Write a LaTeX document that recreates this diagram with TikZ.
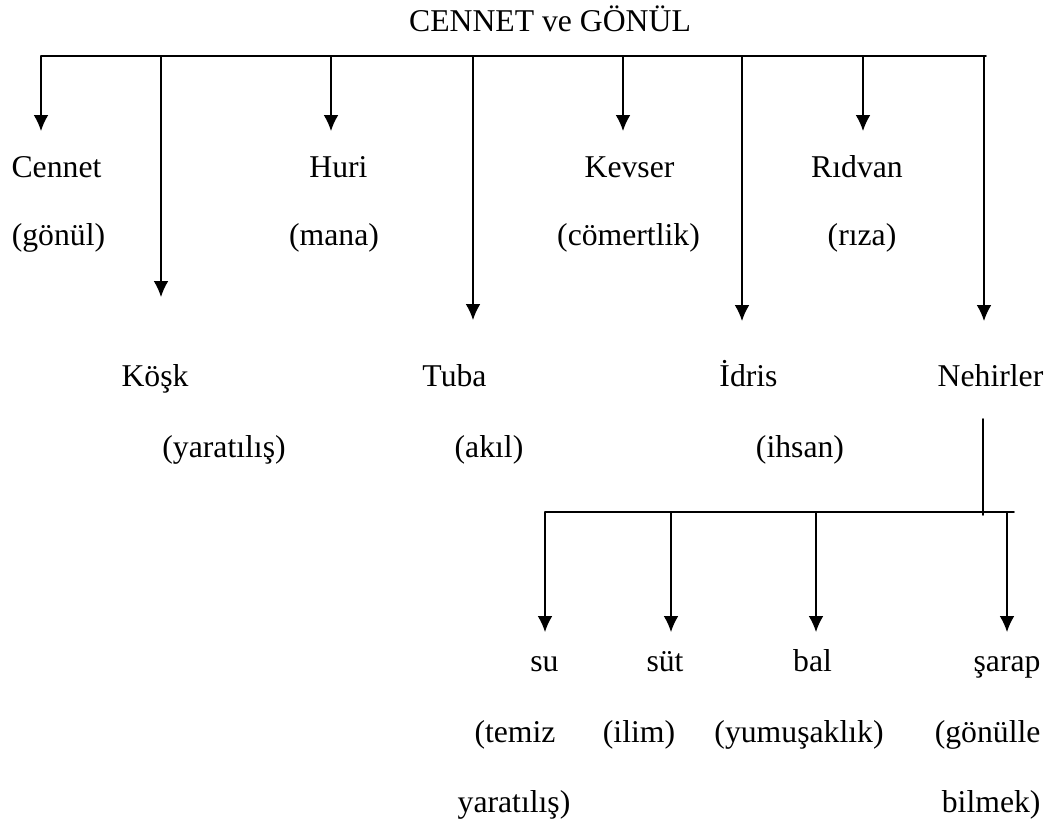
\documentclass[tikz,border=0pt]{standalone}
\usepackage{fontspec}
\setmainfont{Liberation Serif}
\usetikzlibrary{arrows.meta}
\begin{document}
\begin{tikzpicture}[x=0.3785pt,y=-0.3785pt,line cap=round,
  lbl/.style={anchor=base,inner sep=0pt,font=\fontsize{12}{14}\selectfont},
  rlbl/.style={lbl,anchor=base east},
  bus/.style={line width=0.6pt},
  drop/.style={line width=0.5pt,-{Latex[length=6pt,width=5.5pt]}}]
  \useasboundingbox (0,0) rectangle (1061,826);
  \node[lbl] (title) at (550,31) {CENNET ve GÖNÜL};
  \node[lbl] (cennet) at (56.5,177) {Cennet};
  \node[lbl] (gonul) at (58.5,245) {(gönül)};
  \node[lbl] (huri) at (338.5,177) {Huri};
  \node[lbl] (mana) at (334,245) {(mana)};
  \node[lbl] (kevser) at (629.5,177) {Kevser};
  \node[lbl] (comert) at (628.5,245) {(cömertlik)};
  \node[lbl] (ridvan) at (857,177) {Rıdvan};
  \node[lbl] (riza) at (862,245) {(rıza)};
  \node[lbl] (kosk) at (155,386) {Köşk};
  \node[lbl] (yarat) at (224,457) {(yaratılış)};
  \node[lbl] (tuba) at (454.5,386) {Tuba};
  \node[lbl] (akil) at (489,457) {(akıl)};
  \node[lbl] (idris) at (748.5,386) {İdris};
  \node[lbl] (ihsan) at (800,457) {(ihsan)};
  \node[lbl] (nehir) at (990.5,386) {Nehirler};
  \node[lbl] (su) at (544.5,671) {su};
  \node[lbl] (temiz) at (515,742) {(temiz};
  \node[lbl] (yaratb) at (514,812) {yaratılış)};
  \node[lbl] (sut) at (665,671) {süt};
  \node[lbl] (ilim) at (639,742) {(ilim)};
  \node[lbl] (bal) at (812.5,671) {bal};
  \node[lbl] (yumus) at (799,742) {(yumuşaklık)};
  \node[rlbl] (sarap) at (1041,671) {şarap};
  \node[rlbl] (gonulle) at (1041,742) {(gönülle};
  \node[rlbl] (bilmek) at (1041,812) {bilmek)};

  \coordinate (busL) at (41,56);
  \coordinate (busR) at (986,56);
  \draw[bus] (busL) -- (busR);
  \foreach \n/\x/\t in {c/41/131,k/161/297,h/331/131,t/473/320,
                        v/623/131,i/742/321,r/863/131,n/984/321}{
    \coordinate (\n-top) at (\x,56);
    \coordinate (\n-tip) at (\x,\t);
    \draw[drop] (\n-top) -- (\n-tip);
  }

  \coordinate (stemT) at (983,419);
  \coordinate (stemB) at (983,515);
  \draw[bus] (stemT) -- (stemB);
  \coordinate (lowL) at (545,512);
  \coordinate (lowR) at (1014,512);
  \draw[bus] (lowL) -- (lowR);
  \foreach \n/\x in {su/545,st/671,bl/816,sr/1007}{
    \coordinate (\n-top) at (\x,512);
    \coordinate (\n-tip) at (\x,632);
    \draw[drop] (\n-top) -- (\n-tip);
  }
\end{tikzpicture}
\end{document}
